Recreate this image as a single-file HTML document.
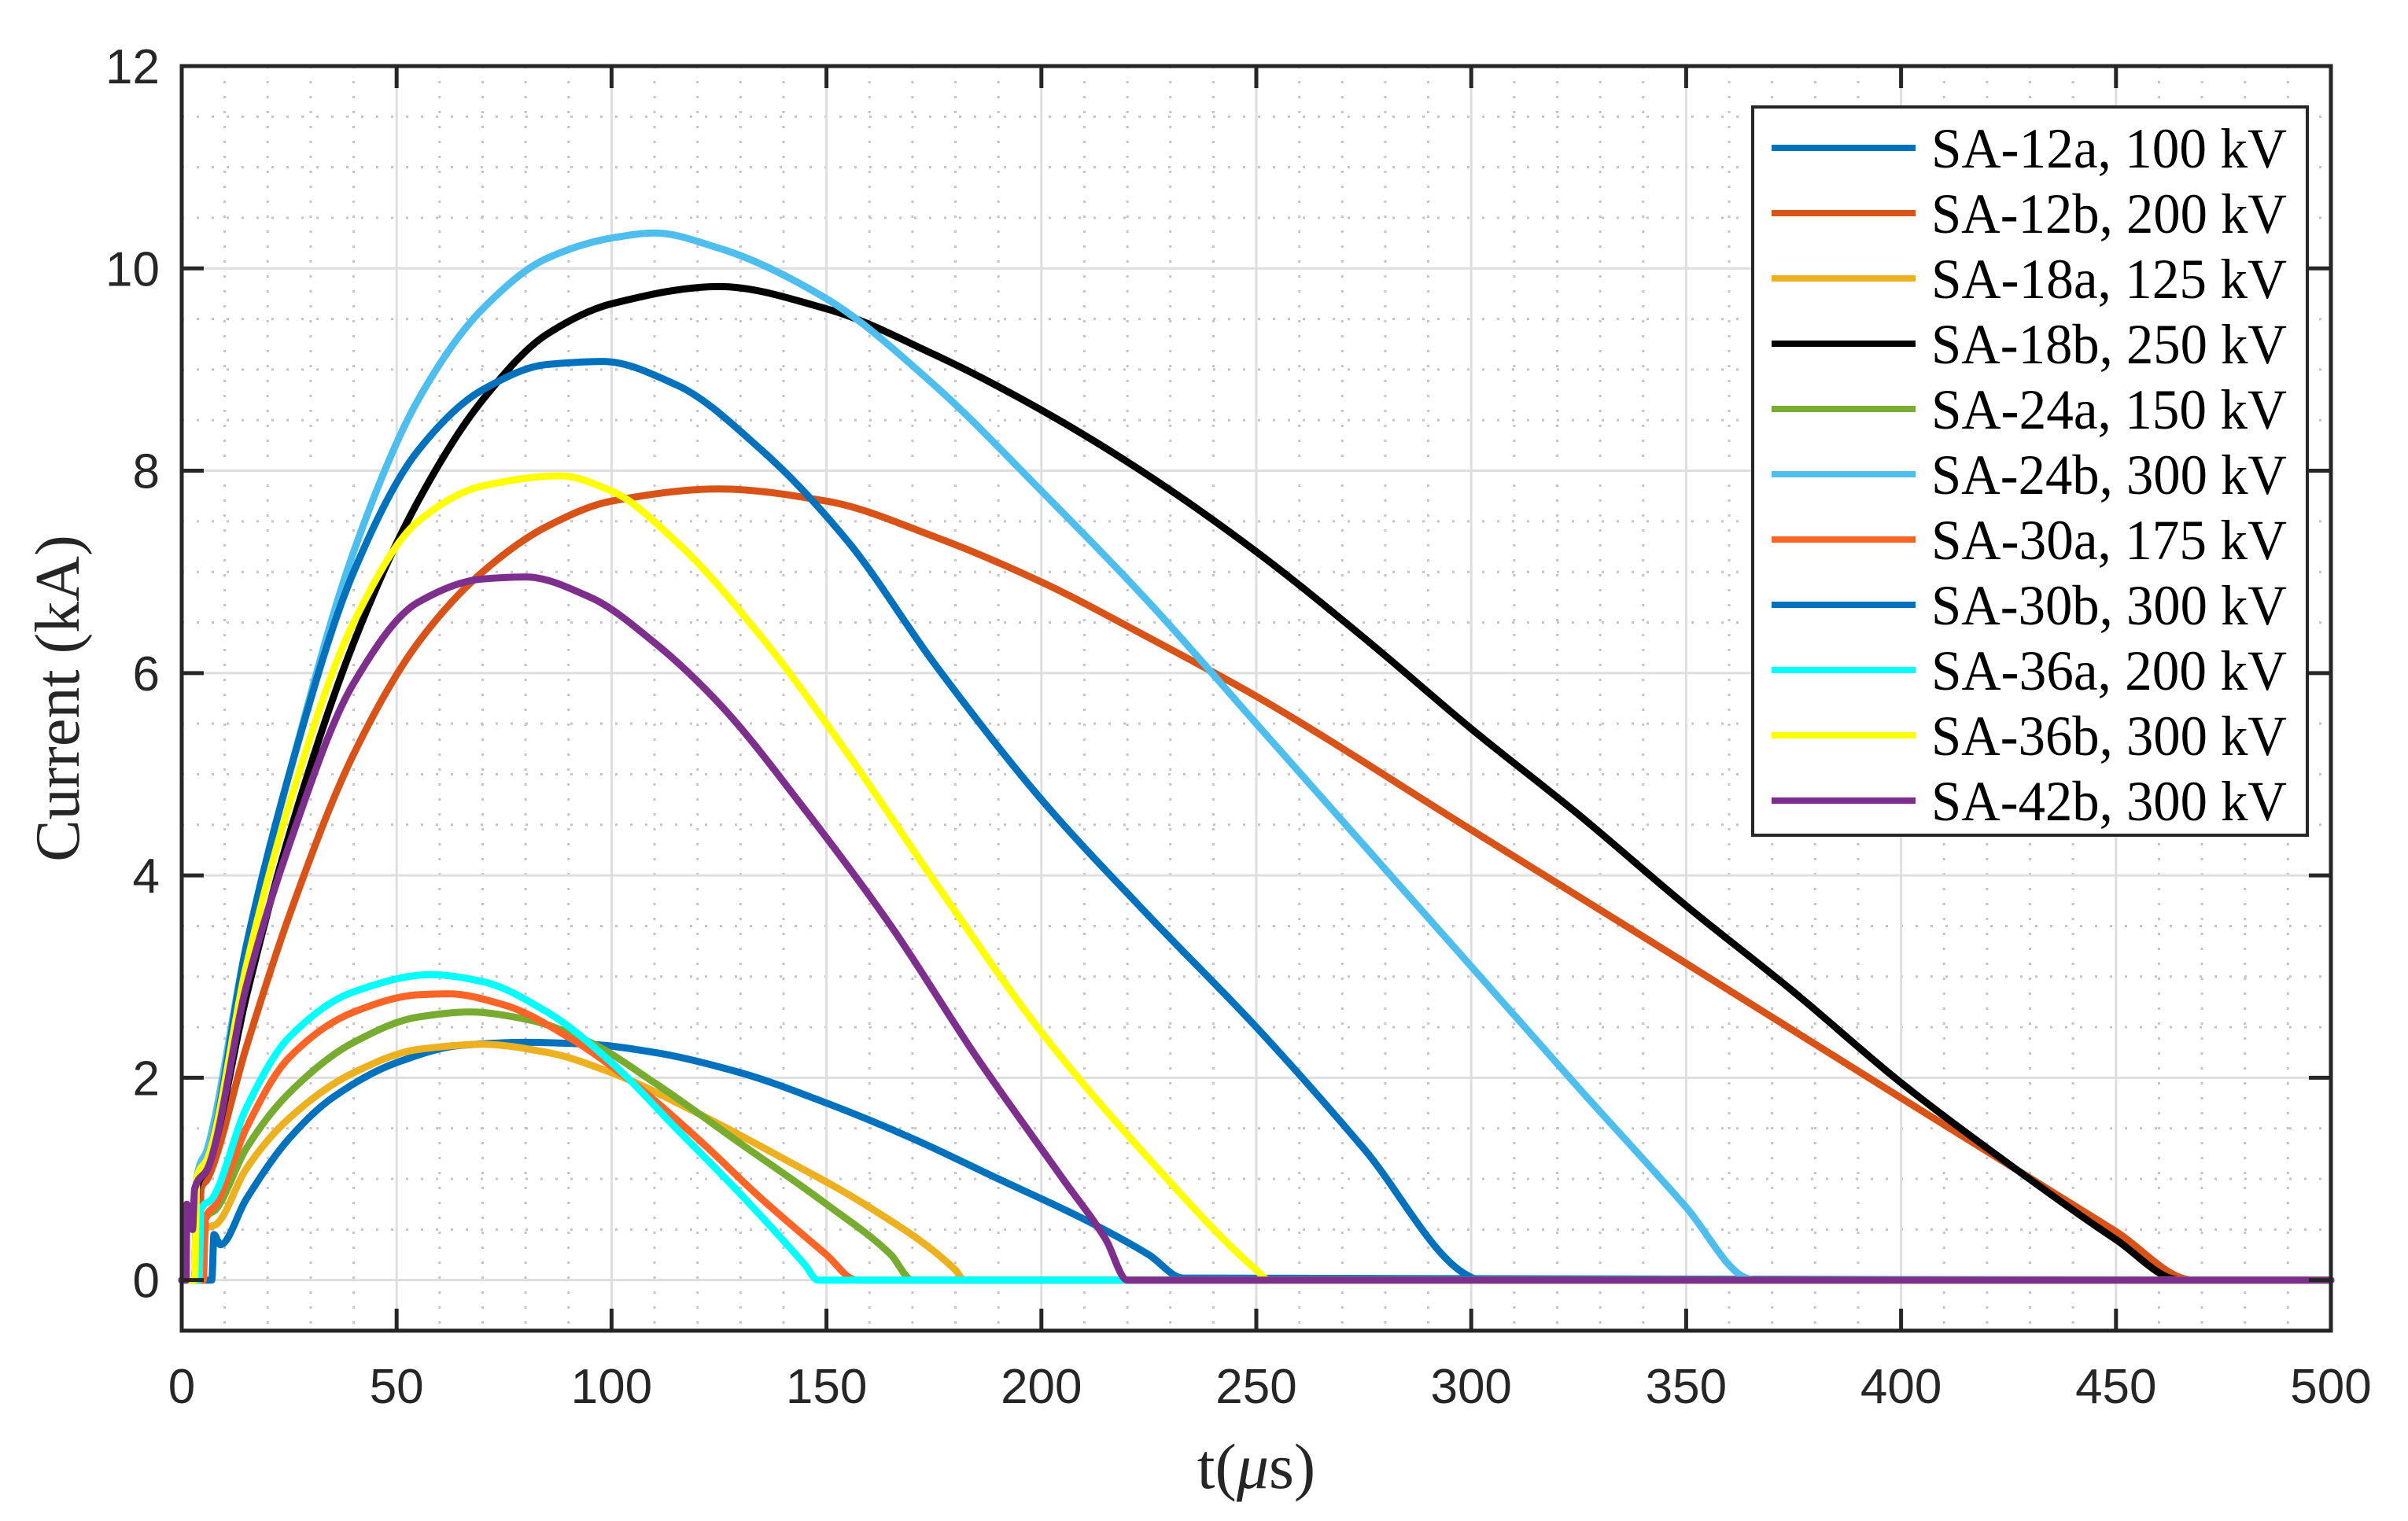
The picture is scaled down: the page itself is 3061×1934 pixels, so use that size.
<!DOCTYPE html>
<html><head><meta charset="utf-8"><style>
html,body{margin:0;padding:0;background:#fff;}
svg{display:block;}
</style></head><body>
<svg id="chart" xmlns="http://www.w3.org/2000/svg" width="3061" height="1934" viewBox="0 0 3061 1934">
<rect x="0" y="0" width="3061" height="1934" fill="#fff"/>
<g id="grid"></g>
<g id="series"></g>
<g id="axes"></g>
<g id="legend"></g>
<text x="1597" y="1892" text-anchor="middle" font-family="Liberation Serif, serif" font-size="82" fill="#262626">t(<tspan font-style="italic">μ</tspan>s)</text>
<text transform="translate(100,888) rotate(-90)" text-anchor="middle" font-family="Liberation Serif, serif" font-size="80" fill="#262626">Current (kA)</text>
</svg>
<script>
const xTicks=[0,50,100,150,200,250,300,350,400,450,500];
const yTicks=[0,2,4,6,8,10,12];
const seriesNames=["SA-12a, 100 kV","SA-12b, 200 kV","SA-18a, 125 kV","SA-18b, 250 kV","SA-24a, 150 kV","SA-24b, 300 kV","SA-30a, 175 kV","SA-30b, 300 kV","SA-36a, 200 kV","SA-36b, 300 kV","SA-42b, 300 kV"];
const seriesColors=["#0072BD","#D95319","#EDB120","#000000","#77AC30","#4DBEEE","#FF6427","#0072BD","#00FFFF","#FFFF00","#7E2F8E"];
const sa12aT=[0,7,7.5,9,15,25,35,50,65,80,95,110,130,150,170,190,210,225,233,500];
const sa12aI=[0,0,0.45,0.35,0.8,1.4,1.8,2.15,2.32,2.35,2.33,2.25,2.05,1.75,1.4,1.0,0.6,0.25,0.02,0];
const sa12bT=[0,4,4.5,6,15,25,40,55,70,85,100,125,150,175,200,225,250,300,350,400,450,468,500];
const sa12bI=[0,0,0.9,1.0,2.3,3.6,5.2,6.3,7.0,7.45,7.7,7.82,7.7,7.35,6.9,6.35,5.77,4.45,3.13,1.8,0.48,0,0];
const sa18aT=[0,5,5.5,8,15,25,40,55,70,85,100,120,140,160,180,182,500];
const sa18aI=[0,0,0.5,0.55,1.1,1.6,2.05,2.28,2.33,2.25,2.05,1.65,1.2,0.72,0.1,0,0];
const sa18bT=[0,3,3.5,6,15,25,40,55,70,85,100,125,150,175,200,225,250,275,300,325,350,375,400,425,450,465,500];
const sa18bI=[0,0,0.9,1.1,2.8,4.4,6.3,7.7,8.7,9.35,9.65,9.82,9.6,9.15,8.6,7.95,7.2,6.35,5.45,4.6,3.7,2.85,1.95,1.15,0.4,0,0];
const sa24aT=[0,5,5.5,8,15,25,40,55,67,80,95,110,130,150,165,170,500];
const sa24aI=[0,0,0.6,0.7,1.3,1.85,2.35,2.6,2.65,2.58,2.35,1.95,1.35,0.75,0.25,0,0];
const sa24bT=[0,3,3.5,6,15,25,40,55,70,85,100,110,125,150,175,200,225,250,275,300,325,350,364,366,500];
const sa24bI=[0,0,1.0,1.3,3.3,5.0,7.2,8.7,9.6,10.1,10.3,10.35,10.2,9.7,8.85,7.8,6.7,5.5,4.3,3.1,1.9,0.72,0.02,0,0];
const sa30aT=[0,5,5.5,8,15,25,40,55,62,75,90,105,120,135,150,157,500];
const sa30aI=[0,0,0.6,0.75,1.5,2.2,2.65,2.82,2.83,2.72,2.4,1.95,1.4,0.8,0.25,0,0];
const sa30bT=[0,3,3.5,6,15,25,40,55,70,85,98,115,135,155,175,200,225,250,275,299,302,500];
const sa30bI=[0,0,1.0,1.2,3.3,5.0,7.0,8.2,8.8,9.05,9.08,8.85,8.2,7.3,6.1,4.75,3.6,2.5,1.3,0.05,0,0];
const sa36aT=[0,4,4.5,7,15,25,40,58,70,85,100,115,130,145,148,500];
const sa36aI=[0,0,0.7,0.8,1.7,2.4,2.85,3.02,2.95,2.65,2.15,1.5,0.85,0.15,0,0];
const sa36bT=[0,3,3.5,6,15,25,40,55,70,88,100,115,135,155,175,200,225,250,253,500];
const sa36bI=[0,0,1.0,1.2,3.1,4.7,6.5,7.5,7.85,7.95,7.8,7.3,6.35,5.2,3.95,2.45,1.2,0.1,0,0];
const sa42bT=[0,1,1.2,2.5,3,6,15,25,40,55,70,80,95,110,125,145,165,185,205,215,220,500];
const sa42bI=[0,0,0.75,0.5,0.9,1.1,2.9,4.3,5.9,6.7,6.93,6.95,6.75,6.3,5.7,4.65,3.5,2.2,1.0,0.4,0,0];
const seriesT=[sa12aT,sa12bT,sa18aT,sa18bT,sa24aT,sa24bT,sa30aT,sa30bT,sa36aT,sa36bT,sa42bT];
const seriesI=[sa12aI,sa12bI,sa18aI,sa18bI,sa24aI,sa24bI,sa30aI,sa30bI,sa36aI,sa36bI,sa42bI];

const L=231,R=2963,T=84,B=1692,XMIN=0,XMAX=500,YMIN=-0.5,YMAX=12;
function sx(v){return L+(v-XMIN)/(XMAX-XMIN)*(R-L);}
function sy(v){return B-(v-YMIN)/(YMAX-YMIN)*(B-T);}
const NS="http://www.w3.org/2000/svg";
function mk(tag,parent,attrs){const e=document.createElementNS(NS,tag);for(const k in attrs)e.setAttribute(k,attrs[k]);parent.appendChild(e);return e;}
function monoPath(xs,ys){
 const n=xs.length;if(n<2)return '';
 const d=[],m=[];
 for(let i=0;i<n-1;i++){const h=xs[i+1]-xs[i];d.push(h===0?0:(ys[i+1]-ys[i])/h);}
 m[0]=d[0];m[n-1]=d[n-2];
 for(let i=1;i<n-1;i++){if(d[i-1]*d[i]<=0)m[i]=0;else{const h0=xs[i]-xs[i-1],h1=xs[i+1]-xs[i];const w1=2*h1+h0,w2=h1+2*h0;m[i]=(w1+w2)/(w1/d[i-1]+w2/d[i]);}}
 let p='M'+xs[0].toFixed(1)+' '+ys[0].toFixed(1);
 for(let i=0;i<n-1;i++){const h=(xs[i+1]-xs[i])/3;
  p+=' C'+(xs[i]+h).toFixed(1)+' '+(ys[i]+m[i]*h).toFixed(1)+' '+(xs[i+1]-h).toFixed(1)+' '+(ys[i+1]-m[i+1]*h).toFixed(1)+' '+xs[i+1].toFixed(1)+' '+ys[i+1].toFixed(1);}
 return p;}
const grid=document.getElementById('grid');
for(let t=XMIN+10;t<XMAX;t+=10){if(t%50===0)continue;
 const e=mk('line',grid,{x1:sx(t),x2:sx(t),y1:T,y2:B,stroke:'#c4c4c4','stroke-width':3,'stroke-dasharray':'3 16'});
 
 }
for(let v=-0.5;v<YMAX;v+=0.5){if(Math.abs(v%2)<1e-9)continue;if(v<=YMIN)continue;
 const e=mk('line',grid,{x1:L,x2:R,y1:sy(v),y2:sy(v),stroke:'#c4c4c4','stroke-width':3,'stroke-dasharray':'3 16'});
 
 }
xTicks.forEach(t=>{const e=mk('line',grid,{x1:sx(t),x2:sx(t),y1:T,y2:B,stroke:'#dedede','stroke-width':3});
 
 });
yTicks.forEach(v=>{const e=mk('line',grid,{x1:L,x2:R,y1:sy(v),y2:sy(v),stroke:'#dedede','stroke-width':3});
 
 });
const sg=document.getElementById('series');
seriesT.forEach((ts,i)=>{const is=seriesI[i];
 const d=monoPath(ts.map(sx),is.map(sy));
 const p=mk('path',sg,{d:d,fill:'none',stroke:seriesColors[i],'stroke-width':9,'stroke-linejoin':'round','stroke-linecap':'round'});
 
 });
const ax=document.getElementById('axes');
const box=mk('rect',ax,{x:L,y:T,width:R-L,height:B-T,fill:'none',stroke:'#262626','stroke-width':5});


xTicks.forEach(t=>{
 mk('line',ax,{x1:sx(t),x2:sx(t),y1:B,y2:B-28,stroke:'#262626','stroke-width':5});
 mk('line',ax,{x1:sx(t),x2:sx(t),y1:T,y2:T+28,stroke:'#262626','stroke-width':5});
 const e=mk('text',ax,{x:sx(t),y:1784,'text-anchor':'middle','font-family':'Liberation Sans, sans-serif','font-size':62,fill:'#262626'});
 e.textContent=t;
 
 });
yTicks.forEach(v=>{
 mk('line',ax,{x1:L,x2:L+28,y1:sy(v),y2:sy(v),stroke:'#262626','stroke-width':5});
 mk('line',ax,{x1:R,x2:R-28,y1:sy(v),y2:sy(v),stroke:'#262626','stroke-width':5});
 const e=mk('text',ax,{x:203,y:sy(v)+22,'text-anchor':'end','font-family':'Liberation Sans, sans-serif','font-size':62,fill:'#262626'});
 e.textContent=v;
 
 });
const lg=document.getElementById('legend');


const lb=mk('rect',lg,{x:2228,y:136,width:705,height:926,fill:'#fff',stroke:'#262626','stroke-width':4});


seriesNames.forEach((n,i)=>{const y=188+i*83;
 const g=mk('g',lg,{});
 
 
 mk('line',g,{x1:2252,x2:2435,y1:y,y2:y,stroke:seriesColors[i],'stroke-width':8});
 const t=mk('text',g,{x:2455,y:y+25,'font-family':'Liberation Serif, serif','font-size':72,fill:'#000','textLength':452,'lengthAdjust':'spacingAndGlyphs'});
 t.textContent=n;});
</script>
</body></html>
